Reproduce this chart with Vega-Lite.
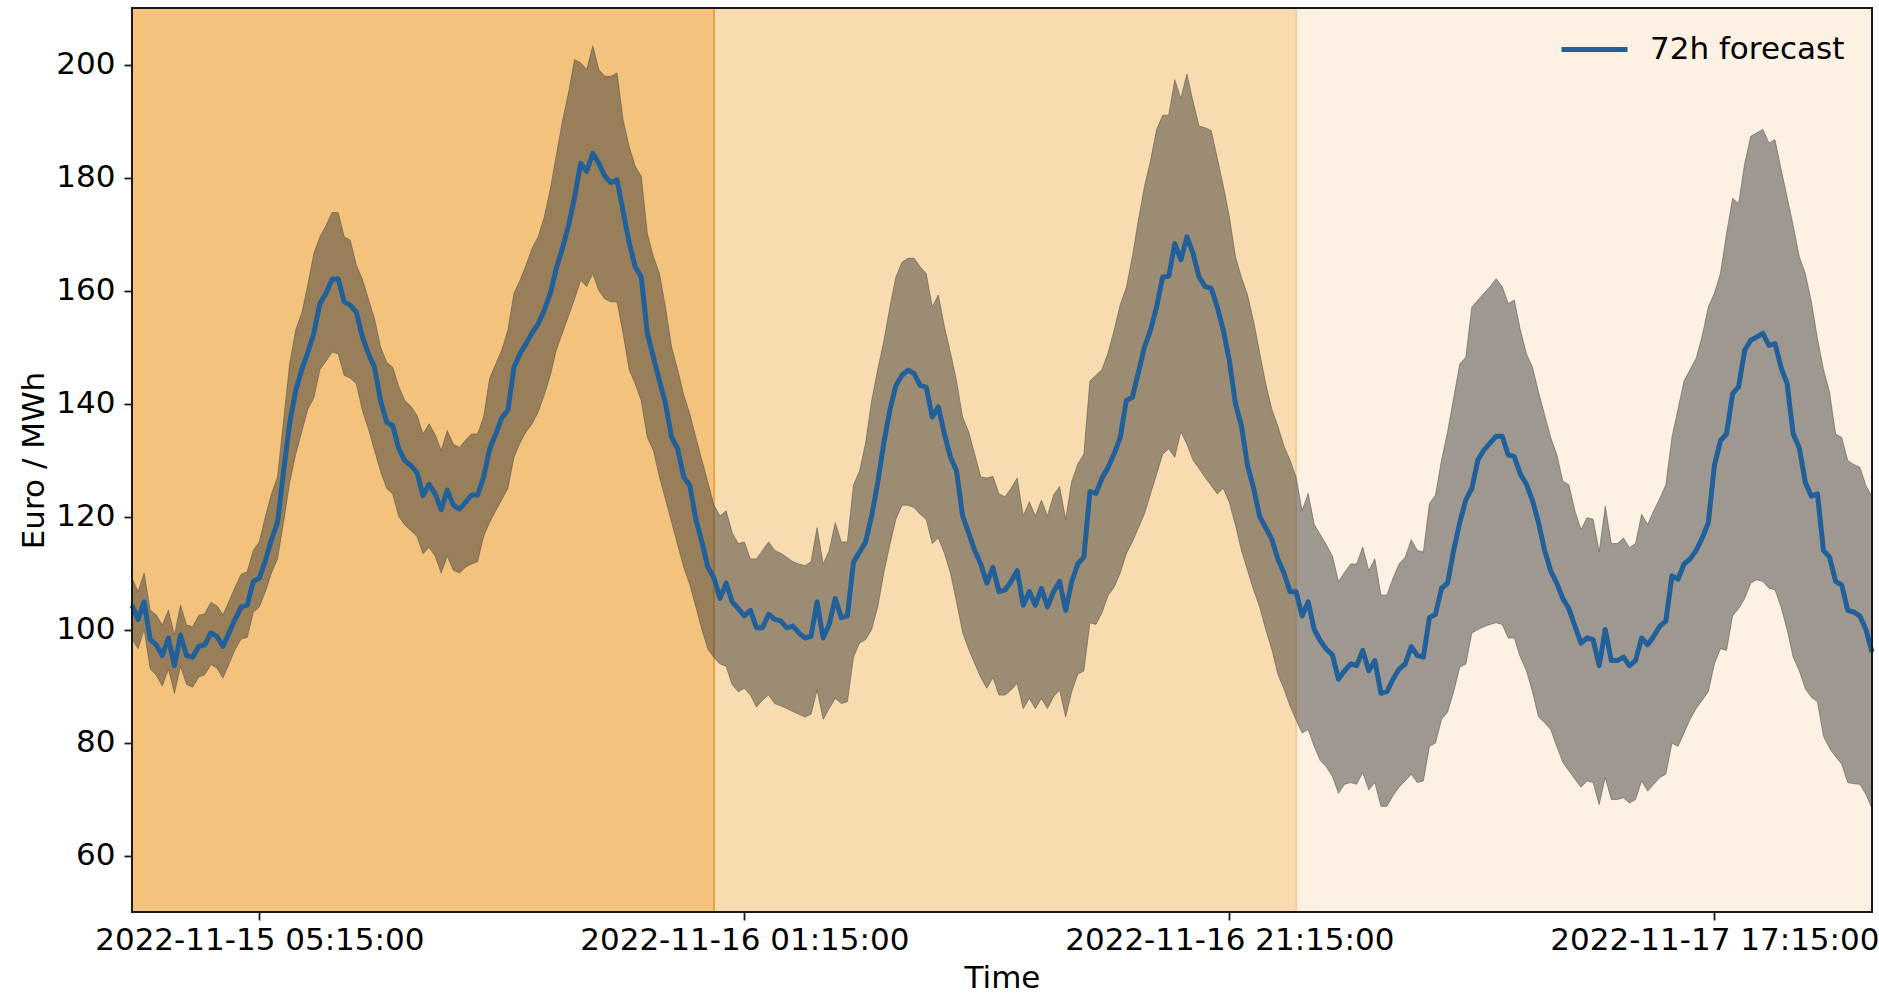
{
  "$schema": "https://vega.github.io/schema/vega-lite/v6.json",
  "width": 1740,
  "height": 904,
  "autosize": {"type": "none"},
  "padding": {"left": 132, "top": 8, "right": 7, "bottom": 81},
  "background": "white",
  "config": {"font": "DejaVu Sans", "view": {"stroke": null}},
  "datasets": {
    "spans": [
      {"start": "2022-11-15T00:00Z", "end": "2022-11-16T00:00Z", "day": "d1"},
      {"start": "2022-11-16T00:00Z", "end": "2022-11-17T00:00Z", "day": "d2"},
      {"start": "2022-11-17T00:00Z", "end": "2022-11-18T00:00Z", "day": "d3"}
    ],
    "fc": [
      {"t":"2022-11-15T00:00Z","m":104.3,"lo":98.3,"hi":109.1},
      {"t":"2022-11-15T00:15Z","m":101.8,"lo":96.6,"hi":106.7},
      {"t":"2022-11-15T00:30Z","m":104.9,"lo":100.0,"hi":110.0},
      {"t":"2022-11-15T00:45Z","m":98.2,"lo":93.0,"hi":103.4},
      {"t":"2022-11-15T01:00Z","m":97.3,"lo":91.9,"hi":102.6},
      {"t":"2022-11-15T01:15Z","m":95.4,"lo":90.0,"hi":100.8},
      {"t":"2022-11-15T01:30Z","m":98.5,"lo":93.0,"hi":103.4},
      {"t":"2022-11-15T01:45Z","m":93.6,"lo":88.7,"hi":99.0},
      {"t":"2022-11-15T02:00Z","m":99.0,"lo":93.5,"hi":104.3},
      {"t":"2022-11-15T02:15Z","m":95.4,"lo":90.3,"hi":100.8},
      {"t":"2022-11-15T02:30Z","m":95.1,"lo":89.8,"hi":100.5},
      {"t":"2022-11-15T02:45Z","m":97.0,"lo":91.6,"hi":102.5},
      {"t":"2022-11-15T03:00Z","m":97.3,"lo":92.0,"hi":102.8},
      {"t":"2022-11-15T03:15Z","m":99.4,"lo":93.8,"hi":104.8},
      {"t":"2022-11-15T03:30Z","m":98.8,"lo":93.2,"hi":104.2},
      {"t":"2022-11-15T03:45Z","m":97.0,"lo":91.4,"hi":102.6},
      {"t":"2022-11-15T04:00Z","m":99.4,"lo":93.9,"hi":105.0},
      {"t":"2022-11-15T04:15Z","m":101.8,"lo":96.4,"hi":107.5},
      {"t":"2022-11-15T04:30Z","m":104.0,"lo":98.3,"hi":109.8},
      {"t":"2022-11-15T04:45Z","m":104.3,"lo":98.6,"hi":110.2},
      {"t":"2022-11-15T05:00Z","m":108.5,"lo":103.0,"hi":114.0},
      {"t":"2022-11-15T05:15Z","m":109.1,"lo":104.0,"hi":115.5},
      {"t":"2022-11-15T05:30Z","m":112.2,"lo":106.7,"hi":120.0},
      {"t":"2022-11-15T05:45Z","m":115.9,"lo":110.0,"hi":124.0},
      {"t":"2022-11-15T06:00Z","m":118.9,"lo":112.5,"hi":127.0},
      {"t":"2022-11-15T06:15Z","m":128.0,"lo":119.0,"hi":137.0},
      {"t":"2022-11-15T06:30Z","m":136.5,"lo":126.0,"hi":147.0},
      {"t":"2022-11-15T06:45Z","m":142.3,"lo":131.0,"hi":153.0},
      {"t":"2022-11-15T07:00Z","m":146.0,"lo":135.0,"hi":156.0},
      {"t":"2022-11-15T07:15Z","m":149.0,"lo":139.0,"hi":161.0},
      {"t":"2022-11-15T07:30Z","m":152.5,"lo":141.0,"hi":166.6},
      {"t":"2022-11-15T07:45Z","m":157.7,"lo":146.0,"hi":169.5},
      {"t":"2022-11-15T08:00Z","m":159.5,"lo":147.5,"hi":171.5},
      {"t":"2022-11-15T08:15Z","m":162.0,"lo":149.1,"hi":173.8},
      {"t":"2022-11-15T08:30Z","m":162.1,"lo":148.8,"hi":173.8},
      {"t":"2022-11-15T08:45Z","m":158.0,"lo":145.0,"hi":169.5},
      {"t":"2022-11-15T09:00Z","m":157.4,"lo":144.5,"hi":168.9},
      {"t":"2022-11-15T09:15Z","m":156.2,"lo":143.5,"hi":164.5},
      {"t":"2022-11-15T09:30Z","m":151.8,"lo":138.8,"hi":162.0},
      {"t":"2022-11-15T09:45Z","m":148.8,"lo":135.5,"hi":158.5},
      {"t":"2022-11-15T10:00Z","m":146.4,"lo":131.7,"hi":155.0},
      {"t":"2022-11-15T10:15Z","m":140.5,"lo":128.0,"hi":150.0},
      {"t":"2022-11-15T10:30Z","m":136.7,"lo":125.0,"hi":147.3},
      {"t":"2022-11-15T10:45Z","m":136.1,"lo":124.0,"hi":146.4},
      {"t":"2022-11-15T11:00Z","m":132.0,"lo":120.0,"hi":143.0},
      {"t":"2022-11-15T11:15Z","m":129.9,"lo":118.5,"hi":140.5},
      {"t":"2022-11-15T11:30Z","m":129.0,"lo":117.5,"hi":139.5},
      {"t":"2022-11-15T11:45Z","m":127.8,"lo":116.5,"hi":137.9},
      {"t":"2022-11-15T12:00Z","m":123.7,"lo":113.4,"hi":134.6},
      {"t":"2022-11-15T12:15Z","m":125.7,"lo":114.5,"hi":136.4},
      {"t":"2022-11-15T12:30Z","m":124.0,"lo":113.0,"hi":134.5},
      {"t":"2022-11-15T12:45Z","m":121.2,"lo":110.0,"hi":131.7},
      {"t":"2022-11-15T13:00Z","m":124.7,"lo":113.0,"hi":135.2},
      {"t":"2022-11-15T13:15Z","m":122.0,"lo":110.5,"hi":132.8},
      {"t":"2022-11-15T13:30Z","m":121.3,"lo":110.0,"hi":132.2},
      {"t":"2022-11-15T13:45Z","m":122.5,"lo":111.0,"hi":133.5},
      {"t":"2022-11-15T14:00Z","m":123.8,"lo":111.6,"hi":134.6},
      {"t":"2022-11-15T14:15Z","m":123.8,"lo":112.0,"hi":134.6},
      {"t":"2022-11-15T14:30Z","m":127.0,"lo":116.5,"hi":137.6},
      {"t":"2022-11-15T14:45Z","m":132.0,"lo":119.0,"hi":144.5},
      {"t":"2022-11-15T15:00Z","m":134.6,"lo":121.0,"hi":147.0},
      {"t":"2022-11-15T15:15Z","m":137.5,"lo":123.0,"hi":149.5},
      {"t":"2022-11-15T15:30Z","m":138.8,"lo":125.0,"hi":153.0},
      {"t":"2022-11-15T15:45Z","m":146.4,"lo":130.5,"hi":159.5},
      {"t":"2022-11-15T16:00Z","m":148.8,"lo":133.0,"hi":161.8},
      {"t":"2022-11-15T16:15Z","m":150.6,"lo":135.0,"hi":164.5},
      {"t":"2022-11-15T16:30Z","m":152.5,"lo":136.4,"hi":167.5},
      {"t":"2022-11-15T16:45Z","m":154.1,"lo":138.5,"hi":169.5},
      {"t":"2022-11-15T17:00Z","m":156.5,"lo":141.5,"hi":173.0},
      {"t":"2022-11-15T17:15Z","m":159.5,"lo":145.0,"hi":178.0},
      {"t":"2022-11-15T17:30Z","m":164.0,"lo":149.5,"hi":184.0},
      {"t":"2022-11-15T17:45Z","m":167.5,"lo":152.5,"hi":190.0},
      {"t":"2022-11-15T18:00Z","m":171.5,"lo":155.5,"hi":195.0},
      {"t":"2022-11-15T18:15Z","m":176.5,"lo":158.5,"hi":200.9},
      {"t":"2022-11-15T18:30Z","m":182.5,"lo":161.8,"hi":200.3},
      {"t":"2022-11-15T18:45Z","m":181.1,"lo":160.7,"hi":199.1},
      {"t":"2022-11-15T19:00Z","m":184.3,"lo":163.0,"hi":203.3},
      {"t":"2022-11-15T19:15Z","m":182.5,"lo":160.0,"hi":199.1},
      {"t":"2022-11-15T19:30Z","m":180.2,"lo":158.5,"hi":197.9},
      {"t":"2022-11-15T19:45Z","m":179.1,"lo":158.0,"hi":197.9},
      {"t":"2022-11-15T20:00Z","m":179.6,"lo":158.0,"hi":198.5},
      {"t":"2022-11-15T20:15Z","m":174.0,"lo":152.4,"hi":190.2},
      {"t":"2022-11-15T20:30Z","m":168.5,"lo":146.0,"hi":185.5},
      {"t":"2022-11-15T20:45Z","m":164.2,"lo":143.5,"hi":182.0},
      {"t":"2022-11-15T21:00Z","m":162.4,"lo":140.5,"hi":180.2},
      {"t":"2022-11-15T21:15Z","m":152.4,"lo":134.0,"hi":170.1},
      {"t":"2022-11-15T21:30Z","m":148.2,"lo":131.7,"hi":166.0},
      {"t":"2022-11-15T21:45Z","m":144.0,"lo":127.0,"hi":163.0},
      {"t":"2022-11-15T22:00Z","m":140.0,"lo":123.0,"hi":157.0},
      {"t":"2022-11-15T22:15Z","m":134.0,"lo":119.0,"hi":150.0},
      {"t":"2022-11-15T22:30Z","m":132.0,"lo":115.0,"hi":146.0},
      {"t":"2022-11-15T22:45Z","m":127.0,"lo":111.0,"hi":141.5},
      {"t":"2022-11-15T23:00Z","m":125.5,"lo":108.0,"hi":138.2},
      {"t":"2022-11-15T23:15Z","m":119.5,"lo":104.0,"hi":134.0},
      {"t":"2022-11-15T23:30Z","m":115.5,"lo":100.0,"hi":130.0},
      {"t":"2022-11-15T23:45Z","m":111.0,"lo":96.5,"hi":126.0},
      {"t":"2022-11-16T00:00Z","m":109.1,"lo":95.0,"hi":122.0},
      {"t":"2022-11-16T00:15Z","m":105.5,"lo":93.9,"hi":120.1},
      {"t":"2022-11-16T00:30Z","m":108.2,"lo":93.5,"hi":121.0},
      {"t":"2022-11-16T00:45Z","m":104.9,"lo":90.2,"hi":117.1},
      {"t":"2022-11-16T01:00Z","m":103.7,"lo":89.0,"hi":115.2},
      {"t":"2022-11-16T01:15Z","m":102.4,"lo":89.6,"hi":115.5},
      {"t":"2022-11-16T01:30Z","m":103.4,"lo":88.4,"hi":112.5},
      {"t":"2022-11-16T01:45Z","m":100.3,"lo":86.3,"hi":112.5},
      {"t":"2022-11-16T02:00Z","m":100.3,"lo":87.5,"hi":114.0},
      {"t":"2022-11-16T02:15Z","m":102.7,"lo":88.4,"hi":115.5},
      {"t":"2022-11-16T02:30Z","m":101.8,"lo":86.9,"hi":114.0},
      {"t":"2022-11-16T02:45Z","m":101.5,"lo":86.5,"hi":113.5},
      {"t":"2022-11-16T03:00Z","m":100.3,"lo":86.0,"hi":112.8},
      {"t":"2022-11-16T03:15Z","m":100.6,"lo":85.5,"hi":112.0},
      {"t":"2022-11-16T03:30Z","m":99.4,"lo":85.0,"hi":111.6},
      {"t":"2022-11-16T03:45Z","m":98.5,"lo":84.5,"hi":111.3},
      {"t":"2022-11-16T04:00Z","m":98.8,"lo":85.0,"hi":112.0},
      {"t":"2022-11-16T04:15Z","m":104.9,"lo":89.3,"hi":118.0},
      {"t":"2022-11-16T04:30Z","m":98.5,"lo":84.1,"hi":111.6},
      {"t":"2022-11-16T04:45Z","m":100.9,"lo":86.0,"hi":114.0},
      {"t":"2022-11-16T05:00Z","m":105.5,"lo":87.8,"hi":118.9},
      {"t":"2022-11-16T05:15Z","m":102.1,"lo":86.9,"hi":115.5},
      {"t":"2022-11-16T05:30Z","m":102.4,"lo":87.2,"hi":115.5},
      {"t":"2022-11-16T05:45Z","m":111.9,"lo":95.1,"hi":125.6},
      {"t":"2022-11-16T06:00Z","m":113.7,"lo":97.6,"hi":128.0},
      {"t":"2022-11-16T06:15Z","m":115.5,"lo":98.2,"hi":133.0},
      {"t":"2022-11-16T06:30Z","m":120.1,"lo":100.0,"hi":140.5},
      {"t":"2022-11-16T06:45Z","m":126.0,"lo":104.0,"hi":146.0},
      {"t":"2022-11-16T07:00Z","m":133.0,"lo":110.0,"hi":151.0},
      {"t":"2022-11-16T07:15Z","m":138.8,"lo":115.0,"hi":157.0},
      {"t":"2022-11-16T07:30Z","m":143.2,"lo":119.5,"hi":162.4},
      {"t":"2022-11-16T07:45Z","m":145.0,"lo":122.0,"hi":165.0},
      {"t":"2022-11-16T08:00Z","m":145.9,"lo":122.0,"hi":165.7},
      {"t":"2022-11-16T08:15Z","m":145.3,"lo":121.6,"hi":165.7},
      {"t":"2022-11-16T08:30Z","m":143.2,"lo":120.4,"hi":164.2},
      {"t":"2022-11-16T08:45Z","m":142.9,"lo":119.5,"hi":163.0},
      {"t":"2022-11-16T09:00Z","m":137.6,"lo":115.2,"hi":157.1},
      {"t":"2022-11-16T09:15Z","m":139.4,"lo":116.2,"hi":159.2},
      {"t":"2022-11-16T09:30Z","m":134.6,"lo":113.5,"hi":153.6},
      {"t":"2022-11-16T09:45Z","m":130.5,"lo":110.0,"hi":149.0},
      {"t":"2022-11-16T10:00Z","m":128.1,"lo":104.9,"hi":144.0},
      {"t":"2022-11-16T10:15Z","m":120.1,"lo":99.5,"hi":137.6},
      {"t":"2022-11-16T10:30Z","m":117.1,"lo":96.5,"hi":135.0},
      {"t":"2022-11-16T10:45Z","m":114.0,"lo":94.0,"hi":131.0},
      {"t":"2022-11-16T11:00Z","m":111.6,"lo":91.5,"hi":127.0},
      {"t":"2022-11-16T11:15Z","m":108.2,"lo":89.6,"hi":126.8},
      {"t":"2022-11-16T11:30Z","m":111.0,"lo":91.5,"hi":127.1},
      {"t":"2022-11-16T11:45Z","m":106.7,"lo":88.4,"hi":124.0},
      {"t":"2022-11-16T12:00Z","m":107.0,"lo":88.4,"hi":123.5},
      {"t":"2022-11-16T12:15Z","m":108.5,"lo":89.3,"hi":125.0},
      {"t":"2022-11-16T12:30Z","m":110.4,"lo":90.5,"hi":126.8},
      {"t":"2022-11-16T12:45Z","m":104.3,"lo":86.0,"hi":120.1},
      {"t":"2022-11-16T13:00Z","m":106.7,"lo":87.8,"hi":122.6},
      {"t":"2022-11-16T13:15Z","m":104.3,"lo":86.0,"hi":120.1},
      {"t":"2022-11-16T13:30Z","m":107.3,"lo":87.8,"hi":122.9},
      {"t":"2022-11-16T13:45Z","m":104.0,"lo":86.0,"hi":120.1},
      {"t":"2022-11-16T14:00Z","m":106.7,"lo":88.1,"hi":123.8},
      {"t":"2022-11-16T14:15Z","m":108.5,"lo":89.3,"hi":125.3},
      {"t":"2022-11-16T14:30Z","m":103.4,"lo":84.5,"hi":119.5},
      {"t":"2022-11-16T14:45Z","m":108.5,"lo":89.0,"hi":126.2},
      {"t":"2022-11-16T15:00Z","m":111.6,"lo":92.1,"hi":129.3},
      {"t":"2022-11-16T15:15Z","m":112.8,"lo":92.7,"hi":131.0},
      {"t":"2022-11-16T15:30Z","m":124.4,"lo":101.2,"hi":144.0},
      {"t":"2022-11-16T15:45Z","m":124.1,"lo":100.9,"hi":145.0},
      {"t":"2022-11-16T16:00Z","m":126.8,"lo":103.0,"hi":146.0},
      {"t":"2022-11-16T16:15Z","m":128.7,"lo":106.0,"hi":149.0},
      {"t":"2022-11-16T16:30Z","m":131.1,"lo":107.5,"hi":153.0},
      {"t":"2022-11-16T16:45Z","m":134.0,"lo":110.0,"hi":157.5},
      {"t":"2022-11-16T17:00Z","m":140.5,"lo":113.4,"hi":160.5},
      {"t":"2022-11-16T17:15Z","m":141.1,"lo":115.5,"hi":166.0},
      {"t":"2022-11-16T17:30Z","m":145.5,"lo":118.0,"hi":172.5},
      {"t":"2022-11-16T17:45Z","m":150.0,"lo":120.5,"hi":178.4},
      {"t":"2022-11-16T18:00Z","m":153.0,"lo":124.0,"hi":183.0},
      {"t":"2022-11-16T18:15Z","m":157.1,"lo":127.5,"hi":188.5},
      {"t":"2022-11-16T18:30Z","m":162.4,"lo":131.0,"hi":191.0},
      {"t":"2022-11-16T18:45Z","m":162.5,"lo":132.0,"hi":191.0},
      {"t":"2022-11-16T19:00Z","m":168.3,"lo":130.5,"hi":197.3},
      {"t":"2022-11-16T19:15Z","m":165.4,"lo":135.0,"hi":194.0},
      {"t":"2022-11-16T19:30Z","m":169.5,"lo":132.8,"hi":198.3},
      {"t":"2022-11-16T19:45Z","m":166.6,"lo":130.0,"hi":193.5},
      {"t":"2022-11-16T20:00Z","m":162.4,"lo":128.5,"hi":189.1},
      {"t":"2022-11-16T20:15Z","m":160.7,"lo":126.9,"hi":188.8},
      {"t":"2022-11-16T20:30Z","m":160.4,"lo":125.5,"hi":188.3},
      {"t":"2022-11-16T20:45Z","m":157.1,"lo":124.0,"hi":183.5},
      {"t":"2022-11-16T21:00Z","m":153.0,"lo":125.0,"hi":178.5},
      {"t":"2022-11-16T21:15Z","m":147.6,"lo":122.5,"hi":173.1},
      {"t":"2022-11-16T21:30Z","m":140.0,"lo":118.5,"hi":166.0},
      {"t":"2022-11-16T21:45Z","m":136.0,"lo":114.0,"hi":162.3},
      {"t":"2022-11-16T22:00Z","m":129.0,"lo":110.5,"hi":159.2},
      {"t":"2022-11-16T22:15Z","m":125.0,"lo":107.0,"hi":154.5},
      {"t":"2022-11-16T22:30Z","m":120.0,"lo":104.0,"hi":149.0},
      {"t":"2022-11-16T22:45Z","m":118.0,"lo":100.0,"hi":143.5},
      {"t":"2022-11-16T23:00Z","m":116.0,"lo":96.5,"hi":139.0},
      {"t":"2022-11-16T23:15Z","m":112.5,"lo":92.1,"hi":136.0},
      {"t":"2022-11-16T23:30Z","m":110.0,"lo":89.5,"hi":132.5},
      {"t":"2022-11-16T23:45Z","m":106.7,"lo":86.5,"hi":130.0},
      {"t":"2022-11-17T00:00Z","m":106.7,"lo":84.0,"hi":127.0},
      {"t":"2022-11-17T00:15Z","m":102.4,"lo":81.7,"hi":121.0},
      {"t":"2022-11-17T00:30Z","m":104.9,"lo":82.3,"hi":124.1},
      {"t":"2022-11-17T00:45Z","m":100.0,"lo":79.3,"hi":118.6},
      {"t":"2022-11-17T01:00Z","m":98.0,"lo":76.8,"hi":116.8},
      {"t":"2022-11-17T01:15Z","m":96.5,"lo":75.7,"hi":115.0},
      {"t":"2022-11-17T01:30Z","m":95.5,"lo":74.0,"hi":113.0},
      {"t":"2022-11-17T01:45Z","m":91.2,"lo":71.0,"hi":108.5},
      {"t":"2022-11-17T02:00Z","m":92.7,"lo":72.6,"hi":110.1},
      {"t":"2022-11-17T02:15Z","m":93.9,"lo":72.9,"hi":111.6},
      {"t":"2022-11-17T02:30Z","m":93.6,"lo":72.6,"hi":111.6},
      {"t":"2022-11-17T02:45Z","m":96.3,"lo":74.7,"hi":114.6},
      {"t":"2022-11-17T03:00Z","m":92.7,"lo":71.6,"hi":110.4},
      {"t":"2022-11-17T03:15Z","m":94.5,"lo":72.9,"hi":112.5},
      {"t":"2022-11-17T03:30Z","m":88.7,"lo":68.7,"hi":106.1},
      {"t":"2022-11-17T03:45Z","m":89.0,"lo":68.7,"hi":106.1},
      {"t":"2022-11-17T04:00Z","m":91.2,"lo":70.6,"hi":109.1},
      {"t":"2022-11-17T04:15Z","m":93.0,"lo":72.1,"hi":111.6},
      {"t":"2022-11-17T04:30Z","m":93.9,"lo":73.2,"hi":112.8},
      {"t":"2022-11-17T04:45Z","m":97.0,"lo":74.4,"hi":115.9},
      {"t":"2022-11-17T05:00Z","m":95.4,"lo":72.9,"hi":114.0},
      {"t":"2022-11-17T05:15Z","m":95.1,"lo":73.2,"hi":113.7},
      {"t":"2022-11-17T05:30Z","m":102.1,"lo":79.3,"hi":122.3},
      {"t":"2022-11-17T05:45Z","m":102.7,"lo":79.9,"hi":123.8},
      {"t":"2022-11-17T06:00Z","m":107.3,"lo":84.1,"hi":130.0},
      {"t":"2022-11-17T06:15Z","m":108.2,"lo":85.4,"hi":135.0},
      {"t":"2022-11-17T06:30Z","m":114.0,"lo":89.0,"hi":141.0},
      {"t":"2022-11-17T06:45Z","m":118.9,"lo":93.3,"hi":147.0},
      {"t":"2022-11-17T07:00Z","m":122.9,"lo":93.9,"hi":148.2},
      {"t":"2022-11-17T07:15Z","m":125.0,"lo":99.4,"hi":157.1},
      {"t":"2022-11-17T07:30Z","m":130.0,"lo":100.0,"hi":158.3},
      {"t":"2022-11-17T07:45Z","m":131.8,"lo":100.5,"hi":159.5},
      {"t":"2022-11-17T08:00Z","m":133.0,"lo":100.9,"hi":160.7},
      {"t":"2022-11-17T08:15Z","m":134.2,"lo":101.2,"hi":162.1},
      {"t":"2022-11-17T08:30Z","m":134.2,"lo":100.9,"hi":160.7},
      {"t":"2022-11-17T08:45Z","m":130.9,"lo":98.5,"hi":157.7},
      {"t":"2022-11-17T09:00Z","m":130.6,"lo":98.5,"hi":158.3},
      {"t":"2022-11-17T09:15Z","m":127.5,"lo":95.1,"hi":153.0},
      {"t":"2022-11-17T09:30Z","m":125.7,"lo":92.7,"hi":148.8},
      {"t":"2022-11-17T09:45Z","m":122.8,"lo":89.0,"hi":146.4},
      {"t":"2022-11-17T10:00Z","m":118.9,"lo":84.5,"hi":142.0},
      {"t":"2022-11-17T10:15Z","m":114.0,"lo":83.5,"hi":138.0},
      {"t":"2022-11-17T10:30Z","m":110.4,"lo":82.3,"hi":134.0},
      {"t":"2022-11-17T10:45Z","m":108.2,"lo":79.3,"hi":131.0},
      {"t":"2022-11-17T11:00Z","m":105.5,"lo":76.5,"hi":126.3},
      {"t":"2022-11-17T11:15Z","m":103.7,"lo":75.0,"hi":125.6},
      {"t":"2022-11-17T11:30Z","m":100.6,"lo":73.5,"hi":121.0},
      {"t":"2022-11-17T11:45Z","m":97.6,"lo":72.1,"hi":117.7},
      {"t":"2022-11-17T12:00Z","m":98.5,"lo":73.2,"hi":119.8},
      {"t":"2022-11-17T12:15Z","m":98.2,"lo":72.9,"hi":119.5},
      {"t":"2022-11-17T12:30Z","m":93.6,"lo":69.0,"hi":113.7},
      {"t":"2022-11-17T12:45Z","m":100.0,"lo":73.8,"hi":121.8},
      {"t":"2022-11-17T13:00Z","m":94.5,"lo":69.9,"hi":115.2},
      {"t":"2022-11-17T13:15Z","m":94.5,"lo":69.9,"hi":115.2},
      {"t":"2022-11-17T13:30Z","m":95.1,"lo":70.2,"hi":116.2},
      {"t":"2022-11-17T13:45Z","m":93.6,"lo":69.3,"hi":114.5},
      {"t":"2022-11-17T14:00Z","m":94.5,"lo":69.9,"hi":115.2},
      {"t":"2022-11-17T14:15Z","m":98.5,"lo":73.2,"hi":120.4},
      {"t":"2022-11-17T14:30Z","m":97.3,"lo":71.4,"hi":118.6},
      {"t":"2022-11-17T14:45Z","m":98.8,"lo":72.6,"hi":121.0},
      {"t":"2022-11-17T15:00Z","m":100.6,"lo":73.8,"hi":123.2},
      {"t":"2022-11-17T15:15Z","m":101.5,"lo":74.4,"hi":125.6},
      {"t":"2022-11-17T15:30Z","m":109.5,"lo":79.9,"hi":134.0},
      {"t":"2022-11-17T15:45Z","m":108.9,"lo":79.3,"hi":139.0},
      {"t":"2022-11-17T16:00Z","m":111.6,"lo":81.7,"hi":144.0},
      {"t":"2022-11-17T16:15Z","m":112.5,"lo":84.1,"hi":146.0},
      {"t":"2022-11-17T16:30Z","m":114.0,"lo":86.0,"hi":148.0},
      {"t":"2022-11-17T16:45Z","m":116.2,"lo":87.5,"hi":152.0},
      {"t":"2022-11-17T17:00Z","m":118.9,"lo":89.0,"hi":157.1},
      {"t":"2022-11-17T17:15Z","m":129.0,"lo":93.9,"hi":159.5},
      {"t":"2022-11-17T17:30Z","m":133.4,"lo":96.6,"hi":163.0},
      {"t":"2022-11-17T17:45Z","m":134.6,"lo":96.3,"hi":170.0},
      {"t":"2022-11-17T18:00Z","m":141.7,"lo":102.4,"hi":176.3},
      {"t":"2022-11-17T18:15Z","m":143.0,"lo":103.7,"hi":175.4},
      {"t":"2022-11-17T18:30Z","m":149.4,"lo":105.5,"hi":182.5},
      {"t":"2022-11-17T18:45Z","m":151.2,"lo":108.2,"hi":187.3},
      {"t":"2022-11-17T19:00Z","m":151.8,"lo":108.8,"hi":187.9},
      {"t":"2022-11-17T19:15Z","m":152.4,"lo":108.5,"hi":188.5},
      {"t":"2022-11-17T19:30Z","m":150.3,"lo":107.3,"hi":186.1},
      {"t":"2022-11-17T19:45Z","m":150.6,"lo":107.0,"hi":186.7},
      {"t":"2022-11-17T20:00Z","m":146.4,"lo":104.0,"hi":181.5},
      {"t":"2022-11-17T20:15Z","m":143.5,"lo":100.0,"hi":176.5},
      {"t":"2022-11-17T20:30Z","m":134.6,"lo":95.1,"hi":171.5},
      {"t":"2022-11-17T20:45Z","m":132.2,"lo":92.7,"hi":166.0},
      {"t":"2022-11-17T21:00Z","m":126.0,"lo":89.5,"hi":163.0},
      {"t":"2022-11-17T21:15Z","m":123.6,"lo":88.0,"hi":158.0},
      {"t":"2022-11-17T21:30Z","m":124.0,"lo":87.2,"hi":151.5},
      {"t":"2022-11-17T21:45Z","m":114.0,"lo":81.1,"hi":146.0},
      {"t":"2022-11-17T22:00Z","m":112.8,"lo":79.0,"hi":142.0},
      {"t":"2022-11-17T22:15Z","m":108.5,"lo":77.5,"hi":134.6},
      {"t":"2022-11-17T22:30Z","m":107.9,"lo":76.2,"hi":134.0},
      {"t":"2022-11-17T22:45Z","m":103.4,"lo":72.9,"hi":129.9},
      {"t":"2022-11-17T23:00Z","m":103.1,"lo":72.7,"hi":129.2},
      {"t":"2022-11-17T23:15Z","m":102.4,"lo":72.6,"hi":128.7},
      {"t":"2022-11-17T23:30Z","m":100.0,"lo":70.8,"hi":125.5},
      {"t":"2022-11-17T23:45Z","m":96.0,"lo":68.3,"hi":123.5}
    ]
  },
  "layer": [
    {
      "data": {"name": "spans"},
      "mark": {"type": "rect", "clip": true},
      "encoding": {
        "x": {"field": "start", "type": "temporal", "title": "Time",
          "scale": {"type": "utc", "nice": false, "domain": [{"year": 2022, "month": 11, "date": 15, "hours": 0, "minutes": 0, "utc": true}, {"year": 2022, "month": 11, "date": 17, "hours": 23, "minutes": 45, "utc": true}]},
          "axis": {"values": [{"year": 2022, "month": 11, "date": 15, "hours": 5, "minutes": 15, "utc": true}, {"year": 2022, "month": 11, "date": 16, "hours": 1, "minutes": 15, "utc": true}, {"year": 2022, "month": 11, "date": 16, "hours": 21, "minutes": 15, "utc": true}, {"year": 2022, "month": 11, "date": 17, "hours": 17, "minutes": 15, "utc": true}],
            "format": "%Y-%m-%d %H:%M:%S", "grid": false, "domain": false, "tickSize": 8, "tickWidth": 1.8, "tickColor": "#1a1a1a", "labelFontSize": 31, "labelLimit": 0, "labelColor": "#000000", "labelPadding": 5, "labelOverlap": false, "labelFlush": false, "labelBound": false, "titleFontSize": 31, "titleFontWeight": "normal", "titleColor": "#000000", "titleY": 75, "titleBaseline": "alphabetic"}},
        "x2": {"field": "end"},
        "fill": {"field": "day", "type": "nominal", "scale": {"domain": ["d1", "d2", "d3"], "range": ["#f3c27c", "#f8dbae", "#fcf1e2"]}, "legend": null}
      }
    },
    {
      "data": {"name": "spans"},
      "transform": [{"filter": "datum.day != 'd1'"}],
      "mark": {"type": "rule", "strokeWidth": 2},
      "encoding": {
        "x": {"field": "start", "type": "temporal", "title": "Time"},
        "stroke": {"field": "day", "type": "nominal", "scale": {"domain": ["d2", "d3"], "range": ["#eba445", "#f4ce92"]}, "legend": null}
      }
    },
    {
      "data": {"name": "fc"},
      "mark": {"type": "area", "color": "#303030", "opacity": 0.46},
      "encoding": {
        "x": {"field": "t", "type": "temporal", "title": "Time"},
        "y": {"field": "lo", "type": "quantitative", "title": "Euro / MWh",
          "scale": {"domain": [50, 210], "nice": false, "zero": false},
          "axis": {"values": [60, 80, 100, 120, 140, 160, 180, 200], "grid": false, "domain": false, "tickSize": 8, "tickWidth": 1.8, "tickColor": "#1a1a1a", "labelFontSize": 31, "labelColor": "#000000", "labelPadding": 9, "titleFontSize": 31, "titleFontWeight": "normal", "titleColor": "#000000", "titleX": -89, "titleY": 452, "titleBaseline": "alphabetic"}},
        "y2": {"field": "hi"}
      }
    },
    {
      "data": {"name": "fc"},
      "mark": {"type": "line", "color": "#4a4a4a", "strokeWidth": 1, "opacity": 0.5},
      "encoding": {
        "x": {"field": "t", "type": "temporal", "title": "Time"},
        "y": {"field": "hi", "type": "quantitative", "title": "Euro / MWh"}
      }
    },
    {
      "data": {"name": "fc"},
      "mark": {"type": "line", "color": "#4a4a4a", "strokeWidth": 1, "opacity": 0.5},
      "encoding": {
        "x": {"field": "t", "type": "temporal", "title": "Time"},
        "y": {"field": "lo", "type": "quantitative", "title": "Euro / MWh"}
      }
    },
    {
      "data": {"name": "fc"},
      "mark": {"type": "line", "strokeWidth": 5, "strokeJoin": "round"},
      "encoding": {
        "x": {"field": "t", "type": "temporal", "title": "Time"},
        "y": {"field": "m", "type": "quantitative", "title": "Euro / MWh"},
        "color": {"datum": "72h forecast", "type": "nominal", "scale": {"range": ["#22609a"]},
          "legend": {"orient": "none", "legendX": 1427, "legendY": 6, "title": null, "symbolType": "stroke", "symbolSize": 4356, "symbolStrokeWidth": 5, "labelFontSize": 31, "labelLimit": 0, "labelColor": "#000000", "labelOffset": 20, "padding": 0}}
      }
    },
    {
      "data": {"values": [{}]},
      "mark": {"type": "rect", "filled": false, "stroke": "#1a1a1a", "strokeWidth": 2},
      "encoding": {}
    }
  ]
}
